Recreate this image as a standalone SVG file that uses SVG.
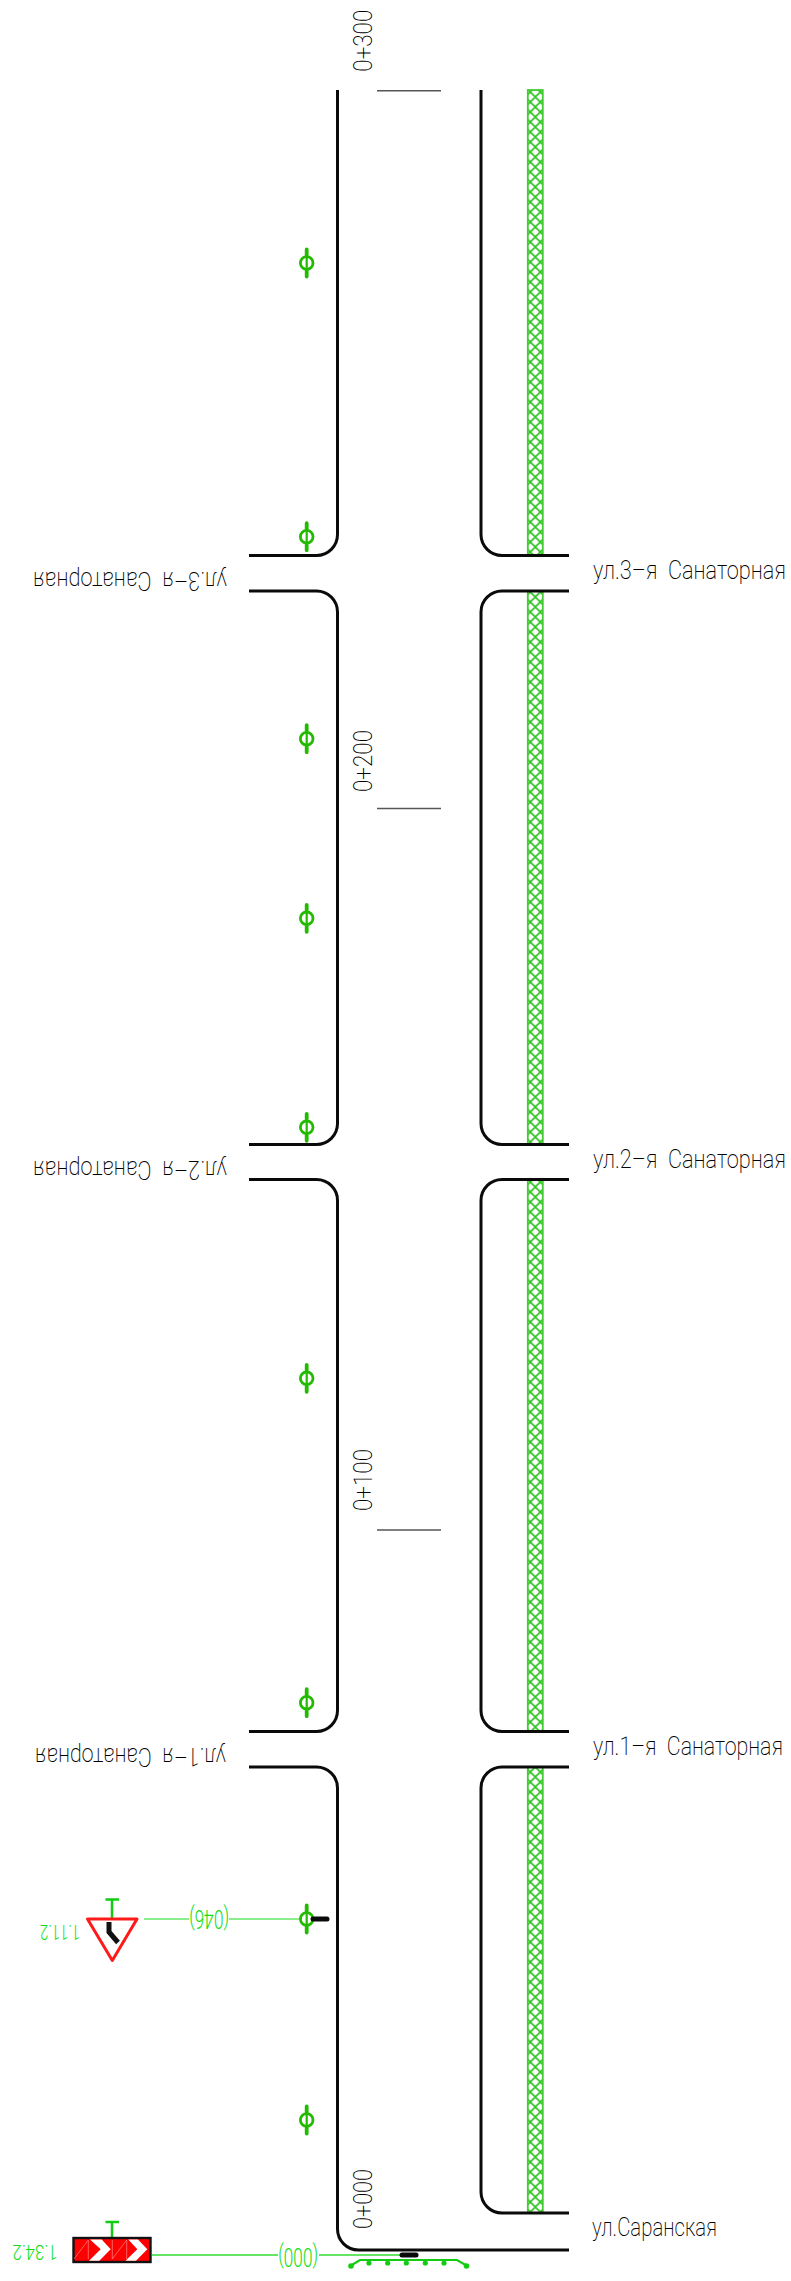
<svg xmlns="http://www.w3.org/2000/svg" width="791" height="2281" viewBox="0 0 791 2281">
<style>
.rd{fill:none;stroke:#0a0a0a;stroke-width:3}
.tick{stroke:#555;stroke-width:1.5;fill:none}
.t{font-family:"Roboto","Liberation Sans",sans-serif;font-weight:200;fill:#000;font-size:26px;white-space:pre}
.g{fill:#11dd11;font-weight:300;font-size:20px}
.lead{stroke:#33dd33;stroke-width:1.5;fill:none}
.post{stroke:#11cc11;stroke-width:2.5;fill:none}
.blk{stroke:#0a0a0a;stroke-width:5;stroke-linecap:round;fill:none}
.tree circle{fill:none;stroke:#22bb00;stroke-width:2.8}
.tree path{fill:none;stroke:#22bb00;stroke-width:2.2}
.tree .end{stroke-width:3.8;stroke-linecap:round}
</style>
<defs>
<pattern id="hatch" width="10" height="10" patternUnits="userSpaceOnUse" x="530.3" y="92">
<path d="M0 0L10 10M10 0L0 10" stroke="#2fc422" stroke-width="1.7" fill="none"/>
</pattern>
<g id="treeSym" class="tree">
<circle cx="0" cy="0" r="6.3"/>
<path d="M0 -14V14"/>
<path class="end" d="M0 -13.5V-8M0 8V13.5"/>
</g>
</defs>
<g id="connectors">
<path class="lead" d="M152 2255H278M319 2255H400"/>
<path class="lead" stroke-opacity=".75" d="M144 1919H189M229 1919H302"/>
</g>
<g id="road-left">
<path class="rd" d="M337.5 90V534.5A21 21 0 0 1 316.5 555.5H249"/>
<path class="rd" d="M249 591H316.5A21 21 0 0 1 337.5 612V1123.5A21 21 0 0 1 316.5 1144.5H249"/>
<path class="rd" d="M249 1179.5H316.5A21 21 0 0 1 337.5 1200.5V1710.5A21 21 0 0 1 316.5 1731.5H249"/>
<path class="rd" d="M249 1767H316.5A21 21 0 0 1 337.5 1788V2229A21 21 0 0 0 358.5 2250H569"/>
</g>
<g id="strip">
<g fill="url(#hatch)" stroke="#44cc33" stroke-width="1.8">
<rect x="527.8" y="90" width="15" height="465"/>
<rect x="527.8" y="591" width="15" height="553.5"/>
<rect x="527.8" y="1179.5" width="15" height="552"/>
<rect x="527.8" y="1767" width="15" height="446"/>
</g>
</g>
<g id="road-right">
<path class="rd" d="M481 90V534.5A21 21 0 0 0 502 555.5H569"/>
<path class="rd" d="M569 591H502A21 21 0 0 0 481 612V1123.5A21 21 0 0 0 502 1144.5H569"/>
<path class="rd" d="M569 1179.5H502A21 21 0 0 0 481 1200.5V1710.5A21 21 0 0 0 502 1731.5H569"/>
<path class="rd" d="M569 1767H502A21 21 0 0 0 481 1788V2192A21 21 0 0 0 502 2213H569"/>
</g>
<g id="chainage">
<path class="tick" d="M377 90.7H441M377 808.5H441M377 1530H441"/>
<text class="t" transform="translate(371.7 71.7) rotate(-90)" textLength="62" lengthAdjust="spacingAndGlyphs">0+300</text>
<text class="t" transform="translate(371.7 792) rotate(-90)" textLength="62" lengthAdjust="spacingAndGlyphs">0+200</text>
<text class="t" transform="translate(371.7 1511) rotate(-90)" textLength="62" lengthAdjust="spacingAndGlyphs">0+100</text>
<text class="t" transform="translate(371.7 2229) rotate(-90)" textLength="60" lengthAdjust="spacingAndGlyphs">0+000</text>
</g>
<g id="street-labels">
<text class="t" x="593" y="579" textLength="193" lengthAdjust="spacingAndGlyphs">ул.3–я  Санаторная</text>
<text class="t" x="593" y="1168" textLength="193" lengthAdjust="spacingAndGlyphs">ул.2–я  Санаторная</text>
<text class="t" x="593" y="1755" textLength="190" lengthAdjust="spacingAndGlyphs">ул.1–я  Санаторная</text>
<text class="t" x="592" y="2236" textLength="125" lengthAdjust="spacingAndGlyphs">ул.Саранская</text>
<text class="t" transform="translate(227 572) rotate(180)" textLength="194" lengthAdjust="spacingAndGlyphs">ул.3–я  Санаторная</text>
<text class="t" transform="translate(227 1161) rotate(180)" textLength="194" lengthAdjust="spacingAndGlyphs">ул.2–я  Санаторная</text>
<text class="t" transform="translate(226 1748) rotate(180)" textLength="191" lengthAdjust="spacingAndGlyphs">ул.1–я  Санаторная</text>
</g>
<g id="trees">
<use href="#treeSym" x="306.7" y="263"/>
<use href="#treeSym" x="306.7" y="536.7"/>
<use href="#treeSym" x="306.7" y="738.7"/>
<use href="#treeSym" x="306.7" y="918.3"/>
<use href="#treeSym" x="306.7" y="1127.3"/>
<use href="#treeSym" x="306.7" y="1378.3"/>
<use href="#treeSym" x="306.7" y="1702.7"/>
<use href="#treeSym" x="306.7" y="1919"/>
<use href="#treeSym" x="306.7" y="2120"/>
</g>
<g id="sign-1-11-2">
<path class="post" d="M112 1918V1899.5M105.5 1899.5H119"/>
<path d="M87.5 1919H137L112.3 1960.5Z" fill="#fff" stroke="#ff1a1a" stroke-width="3" stroke-linejoin="round"/>
<path d="M109 1922V1932L118 1942.5" fill="none" stroke="#111" stroke-width="5"/>
<path class="blk" d="M313 1919H327"/>
<text class="t g" transform="translate(80 1924.7) rotate(180)" textLength="40" lengthAdjust="spacingAndGlyphs" style="font-size:20px">1.11.2</text>
<text class="t g" transform="translate(229 1909.5) rotate(180)" textLength="40" lengthAdjust="spacingAndGlyphs" style="font-size:25px">(046)</text>
</g>
<g id="sign-1-34-2">
<path class="post" d="M112 2237V2222M105.5 2222H119"/>
<rect x="73.5" y="2238" width="77" height="24" fill="#ff0000" stroke="#111" stroke-width="2.4"/>
<path d="M90 2239.5H101.7L110.7 2249.3L99.3 2260.7H89L100.7 2249.3ZM128.3 2239.5H138L147.3 2249.3L136 2260.7H125.5L137.3 2249.3Z" fill="#fff"/>
<path d="M74 2259L88.3 2240V2259M112.3 2240V2259M112.3 2259L126.7 2240V2259" fill="none" stroke="#ff8888" stroke-width=".7"/>
<text class="t g" transform="translate(57.5 2245) rotate(180)" textLength="45" lengthAdjust="spacingAndGlyphs" style="font-size:20px">1.34.2</text>
<text class="t g" transform="translate(318 2247.7) rotate(180)" textLength="40" lengthAdjust="spacingAndGlyphs" style="font-size:25px">(000)</text>
<path class="blk" d="M402 2255H416"/>
</g>
<g id="fence">
<path d="M351 2265.5L360 2260H457L466.5 2265.5" fill="none" stroke="#11cc11" stroke-width="2.2"/>
<g fill="#11cc11">
<circle cx="351" cy="2266" r="2.8"/><circle cx="369" cy="2263" r="2.6"/><circle cx="387.7" cy="2263" r="2.6"/><circle cx="406.3" cy="2263" r="2.6"/><circle cx="425.3" cy="2263" r="2.6"/><circle cx="444" cy="2263" r="2.6"/><circle cx="466.5" cy="2266" r="2.8"/>
</g>
</g>
</svg>
